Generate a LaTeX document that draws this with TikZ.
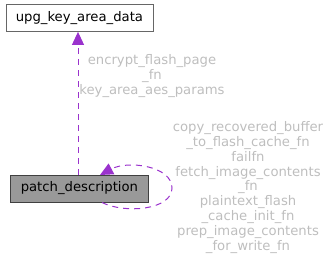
\documentclass[tikz,border=0pt]{standalone}
\usepackage{fontspec}
\setmainfont{DejaVu Sans}
\usepackage{xcolor}
\usepackage{tikz}
\usetikzlibrary{arrows.meta}

\definecolor{edgepurple}{HTML}{9A32CD}
\definecolor{labelgrey}{HTML}{BEBEBE}
\definecolor{boxborder}{HTML}{666666}
\definecolor{focusfill}{HTML}{999999}

\begin{document}
\begin{tikzpicture}[x=1pt, y=-1pt]
            \tikzstyle{every node}=[font=\fontsize{13.2}{14.8}\selectfont, inner sep=0pt]
            \tikzstyle{classbox}=[draw=boxborder, fill=white, minimum height=27pt, anchor=west, line width=0.8pt]
            \tikzstyle{edge}=[draw=edgepurple, dashed, dash pattern=on 6pt off 5pt, line width=1pt]
            \tikzstyle{tip}=[-{Triangle[length=13pt, width=12pt, fill=edgepurple]}]
            \tikzstyle{edgelabel}=[text=labelgrey, align=center]

            \useasboundingbox (0,0) rectangle (331,260);

            % Classes
            \node[classbox, minimum width=147pt] (keyarea) at (5.5,18) {upg\_key\_area\_data};
            \node[classbox, fill=focusfill, draw=black!75, minimum width=138pt] (patchdesc) at (10,188.5) {patch\_description};

            % Member edge to upg_key_area_data
            \draw[edge, tip] (patchdesc.north -| 78,0) -- (keyarea.south -| 78,0);
            \node[edgelabel] (keyarealbl) at (152,76) {encrypt\_flash\_page\\\_fn\\key\_area\_aes\_params};

            % Self loop
            \coordinate (loopstart) at (102,202.5);
            \coordinate (loopend) at (100,175);
            \draw[edge, tip] (loopstart) .. controls (125,214) and (172,210) .. (172,188)
                .. controls (172,166) and (128,160) .. (loopend);
            \node[edgelabel] (looplbl) at (248,187.5) {copy\_recovered\_buffer\\\_to\_flash\_cache\_fn\\failfn\\fetch\_image\_contents\\\_fn\\plaintext\_flash\\\_cache\_init\_fn\\prep\_image\_contents\\\_for\_write\_fn};
\end{tikzpicture}
\end{document}
